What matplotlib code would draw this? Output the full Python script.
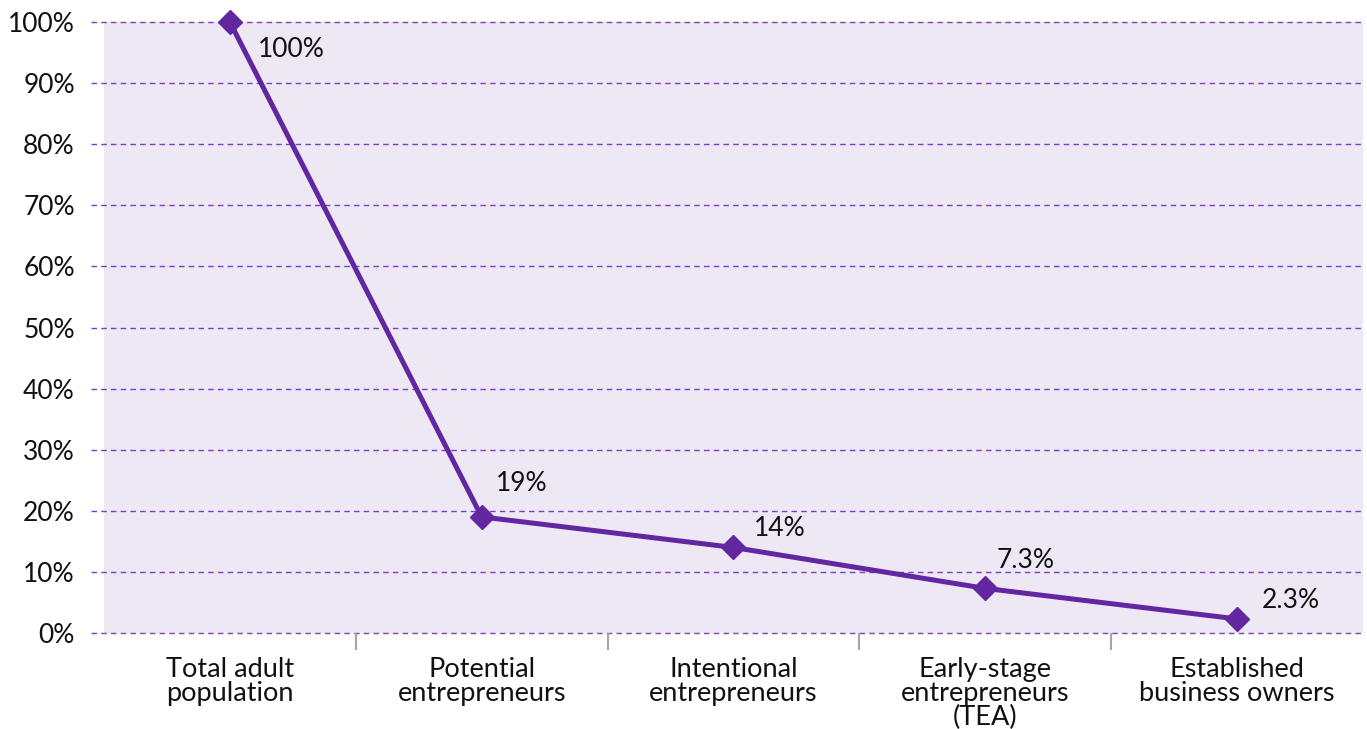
import numpy as np
import matplotlib
matplotlib.use('Agg')
import matplotlib.pyplot as plt

plt.rcParams['font.family'] = ['Lato', 'DejaVu Sans']

categories = ['Total adult\npopulation', 'Potential\nentrepreneurs', 'Intentional\nentrepreneurs',
              'Early-stage\nentrepreneurs\n(TEA)', 'Established\nbusiness owners']
values = [100, 19, 14, 7.3, 2.3]
value_labels = ['100%', '19%', '14%', '7.3%', '2.3%']
y_ticks = np.arange(0, 101, 10)

# label offsets in points (dx, dy) relative to each marker
label_offsets = [(20, -20), (10, 24), (15, 14), (8, 20), (18, 13)]

line_color = '#6126a0'
grid_color = '#7b3fc4'
bg_color = '#eee8f5'

fig = plt.figure(figsize=(13.67, 7.29), dpi=100)
ax = fig.add_axes([0.0761, 0.1317, 0.9209, 0.8381])
ax.set_facecolor(bg_color)

x = np.arange(len(categories))
ax.set_xlim(-0.5, len(categories) - 0.5)
ax.set_ylim(0, 100)

#* dashed gridlines, extending a bit left of the plot area
ax.hlines(y_ticks, -0.01, 1, transform=ax.get_yaxis_transform(), colors=grid_color,
          linestyles=(0, (4, 3)), linewidth=1.0, clip_on=False, zorder=1)

ax.plot(x, values, color=line_color, linewidth=3.6, marker='D', markersize=12,
        zorder=3, clip_on=False)

for xi, v, lab, (dx, dy) in zip(x, values, value_labels, label_offsets):
    ax.annotate(lab, (xi, v), xytext=(dx, dy), textcoords='offset points',
                ha='left', va='center', fontsize=19, color='#111111')

for s in ax.spines.values():
    s.set_visible(False)

ax.set_yticks(y_ticks)
ax.set_yticklabels([f'{t}%' for t in y_ticks], fontsize=19, color='#111111')
ax.tick_params(axis='y', length=0, pad=21)

#* category labels in the middle, tick marks on the boundaries
ax.set_xticks(x)
ax.set_xticklabels(categories, fontsize=19.5, color='#111111', linespacing=0.95, va='top')
ax.tick_params(axis='x', which='major', length=0, pad=17)
ax.set_xticks(np.arange(0.5, len(categories) - 1, 1), minor=True)
ax.tick_params(axis='x', which='minor', length=12, width=1.5, color='#a6a6a6')

fig.savefig('out.png', dpi=100)
